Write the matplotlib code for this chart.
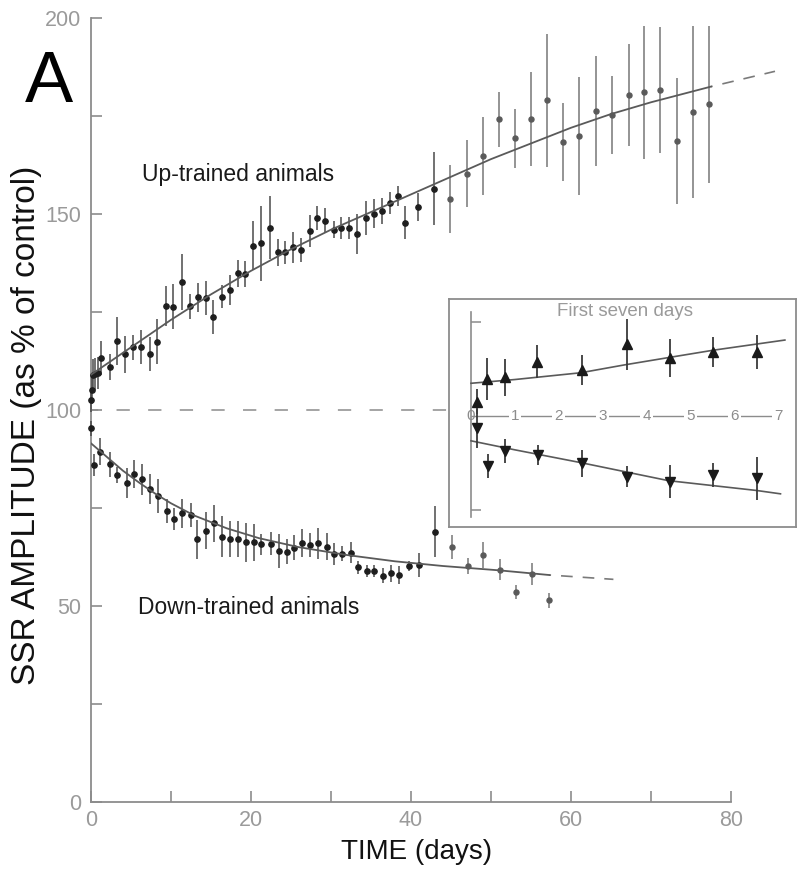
import numpy as np
import matplotlib
matplotlib.use("Agg")
import matplotlib.pyplot as plt
from matplotlib.ticker import FixedLocator

plt.rcParams['font.family'] = ['Liberation Sans', 'DejaVu Sans']

# ---------------- data ----------------
up_days = [0.0, 0.1, 0.2, 0.5, 0.9, 1.3, 2.4, 3.2, 4.3, 5.3, 6.3, 7.4, 8.3, 9.4, 10.3,
           11.4, 12.4, 13.4, 14.4, 15.3, 16.4, 17.4, 18.4, 19.3, 20.3, 21.3, 22.4, 23.4,
           24.3, 25.3, 26.3, 27.4, 28.3, 29.3, 30.4, 31.3, 32.3, 33.3, 34.4, 35.4, 36.4,
           37.4, 38.4, 39.3, 40.9, 42.9, 44.9, 47.0, 49.0, 51.0, 53.0, 55.0, 57.0, 59.0,
           61.0, 63.1, 65.1, 67.2, 69.1, 71.1, 73.2, 75.2, 77.3]
up_vals = [102.6, 105.0, 109.0, 109.2, 109.4, 113.3, 111.0, 117.6, 114.2, 116.0, 116.0,
           114.2, 117.4, 126.5, 126.4, 132.6, 126.5, 128.7, 128.6, 123.8, 128.9, 130.6,
           134.9, 134.7, 141.9, 142.5, 146.5, 140.2, 140.2, 141.5, 140.8, 145.7, 149.0,
           148.3, 146.0, 146.5, 146.5, 144.8, 149.0, 150.1, 150.8, 152.7, 154.6, 147.8,
           151.8, 156.5, 153.9, 160.3, 164.8, 174.2, 169.3, 174.2, 179.0, 168.4, 169.9,
           176.3, 175.3, 180.4, 181.0, 181.6, 168.6, 176.0, 178.0]
up_err = [3.0, 3.5, 4.0, 4.0, 4.0, 4.3, 3.4, 6.0, 4.7, 3.2, 4.3, 4.3, 5.7, 5.1, 5.7, 7.2,
          3.2, 3.6, 4.3, 4.3, 3.0, 3.8, 3.4, 3.4, 6.2, 9.6, 8.0, 3.4, 3.0, 4.0, 3.0, 4.0,
          3.0, 3.2, 2.1, 2.8, 2.8, 5.1, 4.3, 3.6, 3.4, 2.8, 2.6, 4.3, 3.6, 9.2, 8.7, 8.5,
          10.0, 7.0, 7.5, 12.0, 17.0, 10.0, 15.0, 14.0, 10.0, 13.0, 17.0, 16.0, 16.0,
          22.0, 20.0]

down_days = [0.0, 0.4, 1.1, 2.4, 3.3, 4.5, 5.4, 6.4, 7.4, 8.4, 9.5, 10.4, 11.4, 12.5,
             13.3, 14.4, 15.4, 16.4, 17.4, 18.4, 19.4, 20.4, 21.3, 22.5, 23.5, 24.5, 25.4,
             26.4, 27.4, 28.4, 29.5, 30.4, 31.4, 32.5, 33.4, 34.5, 35.4, 36.5, 37.5, 38.5,
             39.7, 41.0, 43.0, 45.1, 47.1, 49.0, 51.1, 53.1, 55.1, 57.2]
down_vals = [95.3, 86.0, 89.4, 86.2, 83.4, 81.3, 83.6, 82.3, 79.8, 78.1, 74.2, 72.1, 73.6,
             73.2, 67.0, 69.2, 71.1, 67.7, 67.1, 67.1, 66.2, 66.2, 65.7, 65.9, 64.1, 63.8,
             64.9, 66.0, 65.6, 66.0, 65.1, 63.2, 63.3, 63.6, 59.9, 59.0, 59.0, 57.7, 58.3,
             57.9, 60.2, 60.5, 69.0, 65.1, 60.2, 63.0, 59.3, 53.6, 58.2, 51.5]
down_err = [2.0, 2.8, 3.4, 3.2, 2.1, 3.8, 3.6, 4.0, 3.8, 4.3, 3.0, 2.8, 3.8, 3.0, 4.9,
            4.7, 4.7, 5.3, 4.5, 4.5, 4.9, 4.7, 2.6, 3.0, 4.3, 3.2, 3.2, 3.6, 3.0, 4.0, 3.4,
            2.8, 1.9, 2.6, 1.7, 1.5, 1.5, 1.9, 2.1, 2.3, 1.3, 3.0, 6.6, 3.0, 2.1, 3.4, 2.6,
            1.7, 2.8, 1.9]

up_fit_days = [0, 5, 10, 15, 20, 25, 30, 35, 40, 45, 50, 55, 60, 65, 70, 77.5]
up_fit_vals = [109, 116, 123, 129.5, 135.5, 141, 146, 150.5, 155, 159.5, 164, 168, 172,
               175.5, 178.5, 182.5]
up_ext_days = [77.5, 85.5]
up_ext_vals = [182.5, 186.4]

down_fit_days = [0, 2, 4, 6, 8, 10, 13, 17, 21, 26, 32, 38, 44, 51, 57.3]
down_fit_vals = [91.5, 88, 84.5, 81.5, 78.7, 76.2, 73, 69.8, 67.3, 65, 63, 61.4, 60.2,
                 59.1, 57.9]
down_ext_days = [57.3, 65.3]
down_ext_vals = [57.9, 56.8]

# inset: first seven days
in_days = [0.14, 0.37, 0.77, 1.51, 2.52, 3.55, 4.53, 5.52, 6.52]
in_up_vals = [103.8, 109.8, 110.3, 114.4, 112.2, 119.1, 115.5, 117.1, 117.1]
in_up_err = [3.3, 5.5, 4.9, 4.4, 3.9, 6.8, 5.0, 4.0, 4.5]
in_down_days = [0.14, 0.39, 0.77, 1.53, 2.52, 3.55, 4.53, 5.52, 6.52]
in_down_vals = [96.7, 86.7, 90.7, 89.6, 87.4, 83.9, 82.5, 84.3, 83.4]
in_down_err = [5.1, 3.3, 3.3, 2.7, 3.5, 2.7, 4.4, 3.1, 5.8]
in_up_fit_days = [0, 1, 2.5, 3.5, 4.53, 5.52, 7.15]
in_up_fit_vals = [108.7, 109.7, 111.5, 113.6, 115.6, 117.5, 120.2]
in_down_fit_days = [0, 1, 2.5, 4.5, 6.5, 7.05]
in_down_fit_vals = [93.4, 91.0, 87.6, 82.8, 80.2, 79.3]
in_day_labels = [0, 1, 2, 3, 4, 5, 6, 7]

# ---------------- figure ----------------
W, H = 799, 869
fig = plt.figure(figsize=(W / 100, H / 100), dpi=100)
ax = fig.add_axes([91 / W, 67 / H, 696 / W, 784 / H])
ax.set_xlim(0, 87)
ax.set_ylim(0, 200)

axis_col = '#8c8c8c'
for s in ['top', 'right']:
    ax.spines[s].set_visible(False)
ax.spines['left'].set_bounds(0, 200)
ax.spines['bottom'].set_bounds(0, 80)
for s in ['left', 'bottom']:
    ax.spines[s].set_color(axis_col)
    ax.spines[s].set_linewidth(1.3)

ax.set_xticks(range(0, 81, 20))
ax.xaxis.set_minor_locator(FixedLocator(range(10, 80, 20)))
ax.set_yticks(range(0, 201, 50))
ax.yaxis.set_minor_locator(FixedLocator(range(25, 200, 50)))
ax.tick_params(which='both', direction='in', length=8, width=1.2, color=axis_col)
ax.tick_params(which='major', labelcolor='#9a9a9a', labelsize=15.5)
ax.tick_params(axis='y', pad=7)
ax.tick_params(axis='x', pad=6)

# reference line at 100 %
ax.axhline(100, color='#8c8c8c', lw=1.1, linestyle=(4, (8.7, 12)), zorder=1)

# data
ud = np.array(up_days); uv = np.array(up_vals); ue = np.array(up_err)
dd = np.array(down_days); dv = np.array(down_vals); de = np.array(down_err)
for d, v, e in [(ud, uv, ue), (dd, dv, de)]:
    early = d < 44
    ax.errorbar(d[early], v[early], yerr=e[early], fmt='o', ms=3.8, color='#1e1e1e',
                ecolor='#4a4a4a', elinewidth=1.1, capsize=0, clip_on=False, zorder=3)
    ax.errorbar(d[~early], v[~early], yerr=e[~early], fmt='o', ms=3.6, color='#5a5a5a',
                ecolor='#777777', elinewidth=1.1, capsize=0, clip_on=False, zorder=3)

fit_col = '#5a5a5a'
ax.plot(up_fit_days, up_fit_vals, color=fit_col, lw=1.3, zorder=4)
ax.plot(down_fit_days, down_fit_vals, color=fit_col, lw=1.3, zorder=4)
ax.plot(up_ext_days, up_ext_vals, color='#7a7a7a', lw=1.2, linestyle=(6, (7, 6)),
        clip_on=False)
ax.plot(down_ext_days, down_ext_vals, color='#7a7a7a', lw=1.2, linestyle=(6, (7, 6)),
        clip_on=False)

ax.text(6.4, 160.2, 'Up-trained animals', fontsize=16.5, color='#1a1a1a', va='center')
ax.text(5.9, 49.5, 'Down-trained animals', fontsize=16.5, color='#1a1a1a', va='center')

fig.text(27 / W, 0.511, 'SSR AMPLITUDE (as % of control)', rotation=90, ha='center',
         va='center', fontsize=24, color='#111111')
fig.text(417 / W, (H - 859) / H, 'TIME (days)', ha='center', va='baseline',
         fontsize=20, color='#111111')
fig.text(25 / W, (H - 102) / H, 'A', fontsize=52, va='baseline', color='#000000')

# ---------------- inset ----------------
x0 = -22 / 43.9
x1 = 325 / 43.9
y0 = 100 - 111 / 3.76
y1 = 100 + 117 / 3.76
axi = fig.add_axes([449 / W, (H - 527) / H, 347 / W, 228 / H])
axi.set_facecolor('white')
axi.set_xlim(x0, x1)
axi.set_ylim(y0, y1)
axi.set_xticks([])
axi.set_yticks([])
for s in axi.spines.values():
    s.set_color('#8c8c8c')
    s.set_linewidth(1.3)

sec = axi.secondary_yaxis((0 - x0) / (x1 - x0))
sec.spines['left'].set_bounds(73.2, 127.7)
sec.spines['left'].set_color('#8c8c8c')
sec.spines['left'].set_linewidth(1.2)
sec.set_yticks([75, 125])
sec.tick_params(direction='in', length=7, width=1.1, color='#8c8c8c', labelleft=False)

axi.hlines(100, 0, 7, color='#8c8c8c', lw=1.0, zorder=1)
for d in in_day_labels:
    if d == 0:
        axi.text(d, 100, str(d), ha='center', va='center', fontsize=11, color='#8c8c8c')
    else:
        axi.text(d, 100, str(d), ha='center', va='center', fontsize=11, color='#8c8c8c',
                 bbox=dict(facecolor='white', edgecolor='none', pad=1.5), zorder=2)

axi.text(0.507, 0.944, 'First seven days', transform=axi.transAxes, ha='center',
         va='center', fontsize=13.5, color='#9a9a9a')

axi.plot(in_up_fit_days, in_up_fit_vals, color=fit_col, lw=1.2, zorder=3)
axi.plot(in_down_fit_days, in_down_fit_vals, color=fit_col, lw=1.2, zorder=3)
axi.errorbar(in_days, in_up_vals, yerr=in_up_err, fmt='^', ms=7, color='#1a1a1a',
             ecolor='#3a3a3a', elinewidth=1.3, capsize=0, zorder=4)
axi.errorbar(in_down_days, in_down_vals, yerr=in_down_err, fmt='v', ms=7, color='#1a1a1a',
             ecolor='#3a3a3a', elinewidth=1.3, capsize=0, zorder=4)

fig.savefig('out.png', dpi=100)
